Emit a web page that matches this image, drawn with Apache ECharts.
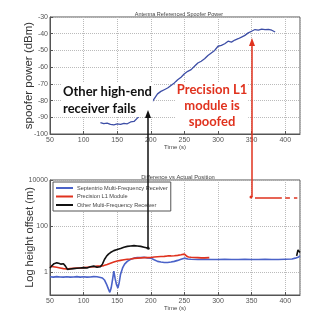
<!DOCTYPE html>
<html>
<head>
<meta charset="utf-8">
<script src="https://cdn.jsdelivr.net/npm/echarts@6/dist/echarts.min.js"></script>
<style>
  html, body { margin: 0; padding: 0; background: #fff; }
  #chart { width: 309px; height: 314px; }
</style>
</head>
<body>
<div id="chart"></div>
<script>
// top panel: spoofer power (dBm) vs time (s)
var powerTime = [125, 130, 135, 140, 145, 150, 155, 160, 165, 170, 175, 180, 185, 190, 195, 200,
  205, 210, 215, 220, 225, 230, 235, 240, 245, 250, 255, 260, 265, 270, 275, 280, 285, 290, 295,
  300, 305, 310, 315, 320, 325, 330, 335, 340, 345, 350, 355, 360, 365, 370, 375, 380, 385];
var powerVal = [-93.2, -93.8, -93.5, -94.2, -94.5, -94.0, -94.3, -93.6, -93.9, -92.8, -92.5, -90.5, -88.6, -86.0, -83.5, -82.0,
  -79.0, -76.0, -74.5, -73.5, -72.5, -71.0, -69.5, -67.5, -66.0, -64.0, -62.5, -61.5, -59.5, -57.5, -56.5, -55.0, -53.0, -51.5, -50.0,
  -47.5, -47.0, -46.0, -44.5, -45.0, -43.8, -43.0, -42.0, -41.0, -39.5, -38.5, -37.5, -37.8, -37.3, -37.6, -37.4, -37.9, -39.0];

// bottom panel: height offset (m), log scale
var septTime = [50, 55, 60, 65, 70, 75, 80, 85, 90, 95, 100, 105, 110, 115, 120, 125, 128, 131, 134, 137, 139, 141, 143, 145,
  147, 149, 151, 153, 155, 158, 161, 165, 170, 175, 180, 185, 190, 195, 200, 205, 210, 215, 220, 225, 230, 235, 240, 245, 250,
  255, 260, 270, 280, 290, 300, 310, 320, 330, 340, 350, 360, 370, 380, 390, 400, 410, 415, 420, 422];
var septVal = [0.62, 0.6, 0.63, 0.61, 0.6, 0.62, 0.6, 0.61, 0.63, 0.6, 0.62, 0.6, 0.61, 0.63, 0.62, 0.58, 0.55, 0.45, 0.3, 0.18, 0.13, 0.2, 0.45, 1.1,
  0.5, 0.28, 0.2, 0.35, 0.8, 1.5, 2.2, 2.9, 3.6, 4.0, 4.3, 4.2, 4.4, 4.1, 4.0, 3.4, 2.9, 2.7, 2.6, 2.6, 2.7, 2.9, 3.2, 3.6, 4.0,
  3.7, 3.6, 3.5, 3.6, 3.5, 3.5, 3.6, 3.5, 3.5, 3.6, 3.5, 3.5, 3.6, 3.5, 3.5, 3.6, 3.7, 4.0, 4.5, 5.0];

var l1Time = [50, 55, 60, 65, 70, 75, 80, 85, 90, 95, 100, 105, 110, 115, 120, 125, 130, 135, 140, 145, 150, 155, 160, 165, 170,
  175, 180, 185, 190, 195, 200, 205, 210, 215, 220, 225, 230, 235, 240, 245, 250, 253, 256, 260, 265, 270, 275, 280, 287,
  353, 355, 360, 365, 370, 375, 380, 385, 390, 395, 397, 400, 404, 407, 410, 413, 418];
var l1Val = [1.8, 1.7, 1.6, 1.5, 1.4, 1.35, 1.4, 1.45, 1.5, 1.5, 1.55, 1.6, 1.65, 1.7, 1.8, 1.8, 1.9, 2.1, 2.4, 2.7, 3.0, 3.2, 3.4, 3.6, 3.7,
  3.9, 4.0, 4.1, 4.2, 4.2, 4.3, 4.5, 4.6, 4.7, 4.8, 5.0, 5.0, 5.1, 5.3, 5.6, 6.0, 5.0, 4.5, 4.4, 4.3, 4.2, 4.1, 4.1, 4.2,
  null, 1650, 1650, 1640, 1650, 1660, 1650, 1650, 1640, 1650, null, 1650, 1650, 1650, null, 1650, 1650];

var otherTime = [50, 53, 56, 60, 63, 66, 70, 73, 76, 80, 85, 90, 95, 100, 105, 110, 115, 120, 125, 128, 131, 134, 137, 140, 145,
  150, 155, 160, 165, 170, 175, 180, 185, 190, 195, 198, 300, 417, 419, 422];
var otherVal = [1.5, 1.9, 2.3, 2.5, 2.4, 2.2, 2.3, 1.8, 1.3, 1.35, 1.4, 1.45, 1.5, 1.55, 1.5, 1.7, 1.8, 1.6, 1.7, 2.2, 3.5, 4.8, 6.0, 7.0, 8.5,
  9.5, 10.5, 12, 13, 13.5, 14, 13.5, 13, 12, 11, 10, null, 5, 9, 7];

var logTicks = [1, 100, 10000];

function pairs(t, v) {
  return t.map(function (x, i) { return [x, v[i]]; });
}

var tickFont = { fontFamily: 'Liberation Sans', fontSize: 7, color: '#555' };
var chart = echarts.init(document.getElementById('chart'));

function xAxisOf(idx) {
  return {
    type: 'value', gridIndex: idx, min: 50, max: 422, interval: 50,
    name: 'Time (s)', nameLocation: 'middle', nameGap: 10, nameMoveOverlap: false,
    nameTextStyle: { fontFamily: 'Liberation Sans', fontSize: 6, color: '#444' },
    axisLine: { lineStyle: { color: '#555', width: 1 } },
    axisTick: { inside: true, length: 3, lineStyle: { color: '#555' } },
    axisLabel: Object.assign({ margin: 3, showMaxLabel: false }, tickFont),
    splitLine: { show: true, lineStyle: { color: '#bbb', type: 'dotted' } }
  };
}

var option = {
  backgroundColor: '#fff',
  animation: false,
  title: [
    { text: 'Antenna Referenced Spoofer Power', left: 174, top: 6, textAlign: 'center',
      textStyle: { fontFamily: 'Liberation Sans', fontSize: 5.5, fontWeight: 'normal', color: '#444' } },
    { text: 'Difference vs Actual Position', left: 173, top: 169, textAlign: 'center',
      textStyle: { fontFamily: 'Liberation Sans', fontSize: 5.8, fontWeight: 'normal', color: '#444' } }
  ],
  grid: [
    { left: 50, right: 9, top: 17, height: 117, show: true, borderColor: '#555', borderWidth: 1 },
    { left: 50, right: 9, top: 180, height: 115, show: true, borderColor: '#555', borderWidth: 1 }
  ],
  xAxis: [xAxisOf(0), xAxisOf(1)],
  yAxis: [
    {
      type: 'value', gridIndex: 0, min: -100, max: -30, interval: 10,
      name: 'spoofer power (dBm)', nameLocation: 'middle', nameGap: 15, nameMoveOverlap: false,
      nameTextStyle: { fontFamily: 'Liberation Sans', fontSize: 11.5, color: '#333' },
      axisLine: { lineStyle: { color: '#555' } },
      axisTick: { inside: true, length: 3, lineStyle: { color: '#555' } },
      axisLabel: Object.assign({ margin: 2 }, tickFont),
      splitLine: { show: true, lineStyle: { color: '#bbb', type: 'dotted' } }
    },
    {
      type: 'log', gridIndex: 1, logBase: 100, min: 0.1, max: 10000,
      name: 'Log height offset (m)', nameLocation: 'middle', nameGap: 15, nameMoveOverlap: false,
      nameTextStyle: { fontFamily: 'Liberation Sans', fontSize: 11, color: '#333' },
      axisLine: { lineStyle: { color: '#555' } },
      axisTick: { inside: true, length: 3, lineStyle: { color: '#555' } },
      axisLabel: Object.assign({
        margin: 2,
        formatter: function (v) {
          for (var i = 0; i < logTicks.length; i++) {
            if (Math.abs(v - logTicks[i]) < 1e-6 * logTicks[i]) return String(logTicks[i]);
          }
          return '';
        }
      }, tickFont),
      splitLine: { show: true, lineStyle: { color: '#bbb', type: 'dotted' } }
    }
  ],
  legend: {
    left: 53, top: 182, orient: 'vertical', itemGap: 2.5, padding: [3, 3, 3, 3],
    itemWidth: 17, itemHeight: 2, icon: 'rect',
    backgroundColor: '#fff', borderColor: '#555', borderWidth: 1, borderRadius: 0,
    textStyle: { fontFamily: 'Liberation Sans', fontSize: 5.6, color: '#444', padding: [0, 0, 0, -1] },
    data: ['Septentrio Multi-Frequency Receiver', 'Precision L1 Module', 'Other Multi-Frequency Receiver']
  },
  series: [
    { type: 'line', xAxisIndex: 0, yAxisIndex: 0, data: pairs(powerTime, powerVal), showSymbol: false,
      lineStyle: { color: '#3d4ea6', width: 1.3 }, itemStyle: { color: '#3d4ea6' } },
    { name: 'Septentrio Multi-Frequency Receiver', type: 'line', xAxisIndex: 1, yAxisIndex: 1,
      data: pairs(septTime, septVal), showSymbol: false,
      lineStyle: { color: '#4a62c8', width: 1.6 }, itemStyle: { color: '#4a62c8' } },
    { name: 'Precision L1 Module', type: 'line', xAxisIndex: 1, yAxisIndex: 1,
      data: pairs(l1Time, l1Val), showSymbol: false,
      lineStyle: { color: '#e0321e', width: 1.6 }, itemStyle: { color: '#e0321e' } },
    { name: 'Other Multi-Frequency Receiver', type: 'line', xAxisIndex: 1, yAxisIndex: 1,
      data: pairs(otherTime, otherVal), showSymbol: false,
      lineStyle: { color: '#111', width: 1.6 }, itemStyle: { color: '#111' } }
  ],
  graphic: [
    // annotation texts
    { type: 'text', left: 62, top: 83, z: 100,
      style: { text: 'Other high-end\nreceiver fails', fill: '#111', font: 'bold 13px Lato', lineHeight: 17,
        backgroundColor: '#fff', padding: [0, 1] } },
    { type: 'text', x: 212, y: 82, z: 100,
      style: { text: 'Precision L1\nmodule is\nspoofed', fill: '#e0321e', font: 'bold 13px Lato', lineHeight: 16,
        align: 'center', backgroundColor: '#fff', padding: [0, 1] } },
    // black arrow
    { type: 'line', shape: { x1: 148, y1: 248, x2: 148, y2: 116 }, style: { stroke: '#111', lineWidth: 1.5 }, z: 110 },
    { type: 'polygon', shape: { points: [[148, 110], [145, 118], [151, 118]] }, style: { fill: '#111' }, z: 110 },
    { type: 'circle', shape: { cx: 148, cy: 248, r: 1.5 }, style: { fill: '#111' }, z: 110 },
    // red arrow
    { type: 'line', shape: { x1: 252, y1: 197, x2: 252, y2: 44 }, style: { stroke: '#e0321e', lineWidth: 1.5 }, z: 110 },
    { type: 'polygon', shape: { points: [[252, 38], [249, 46], [255, 46]] }, style: { fill: '#e0321e' }, z: 110 },
    { type: 'circle', shape: { cx: 251, cy: 197, r: 1.5 }, style: { fill: '#e0321e' }, z: 110 }
  ]
};
chart.setOption(option);
</script>
</body>
</html>
